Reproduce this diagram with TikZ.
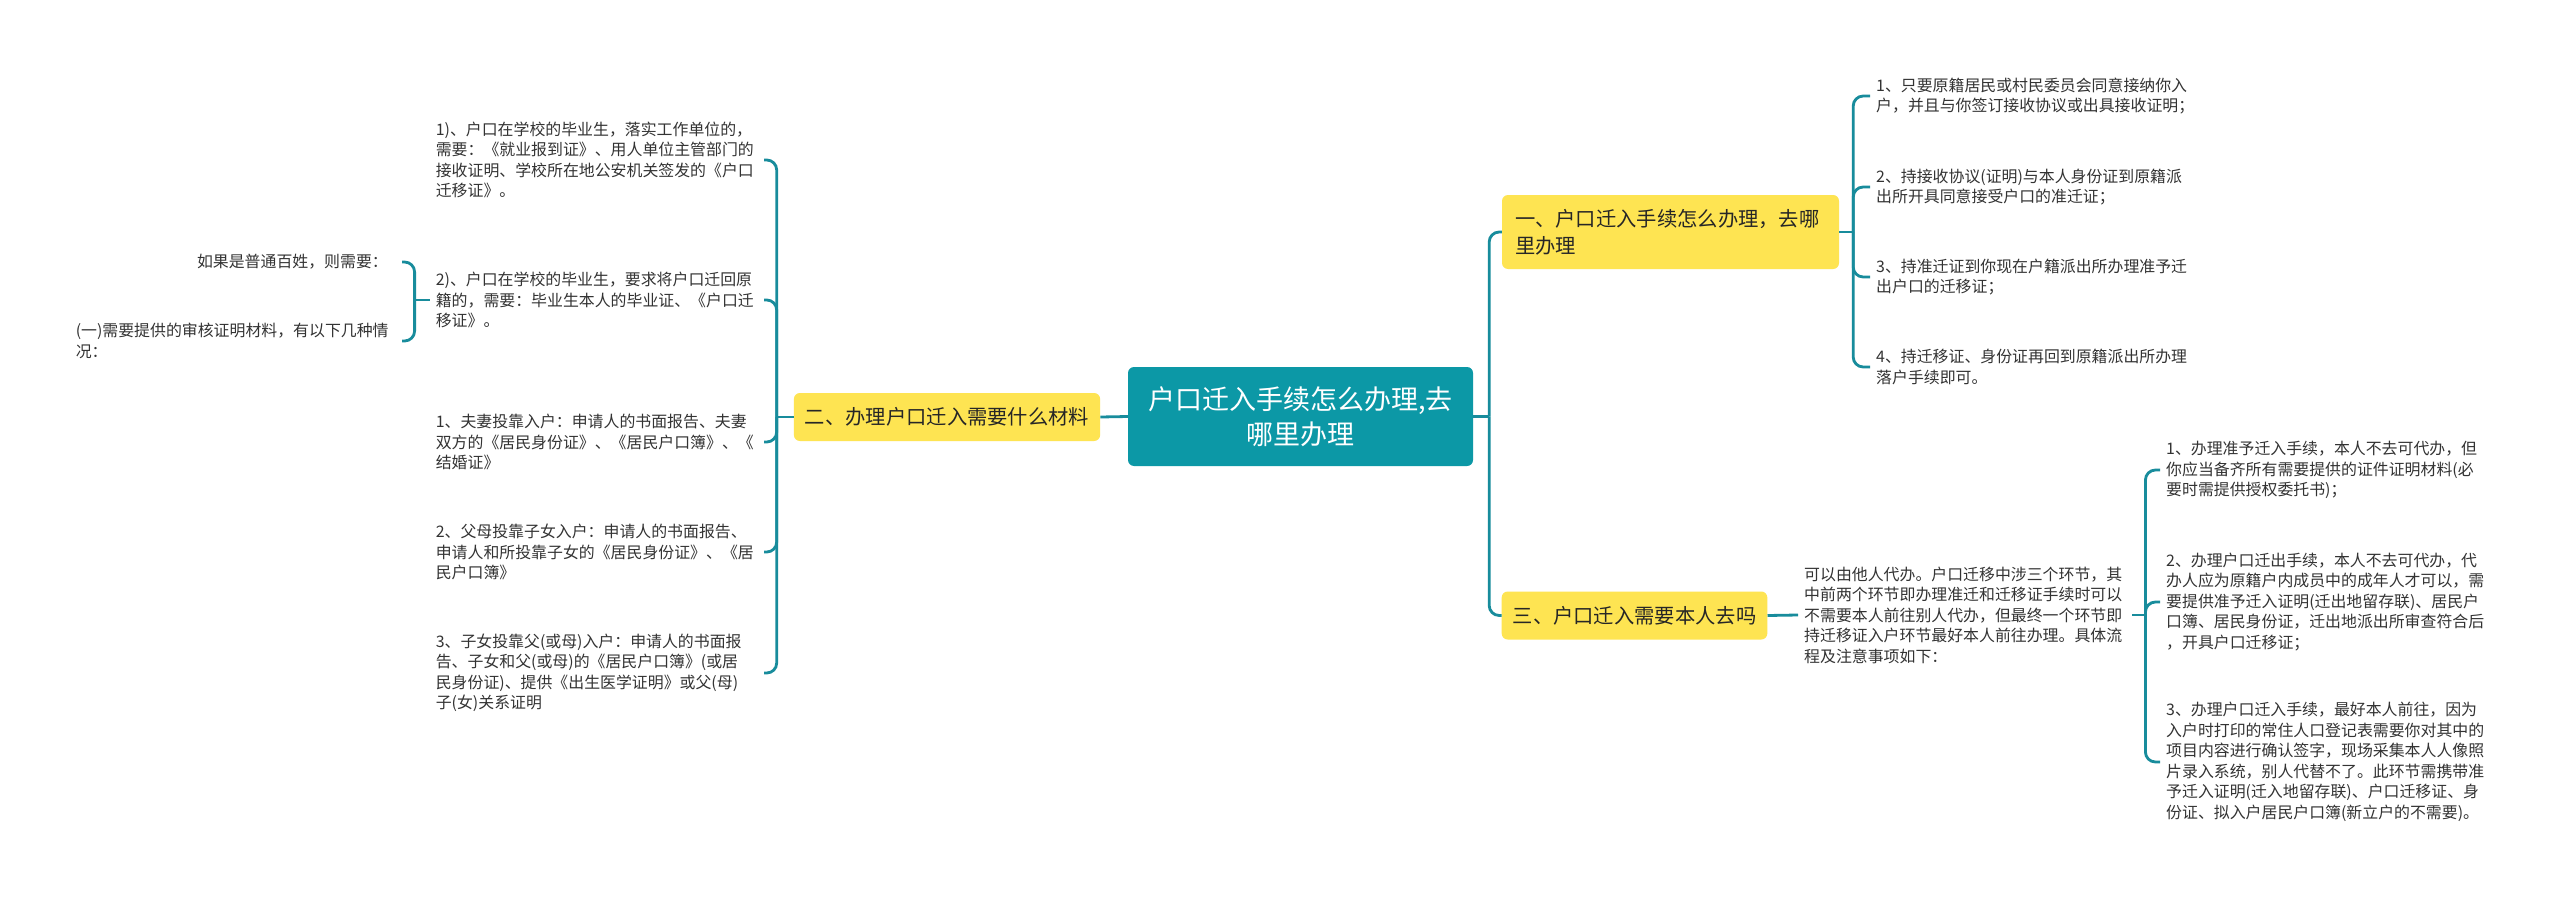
\documentclass[tikz,border=0pt]{standalone}
\usepackage{fontspec}
\setmainfont{Noto Sans CJK SC}
\usepackage{tikz}
\usetikzlibrary{positioning}

\definecolor{tealline}{RGB}{24,140,156}
\definecolor{tealroot}{RGB}{12,152,166}
\definecolor{topicyellow}{RGB}{254,228,82}
\definecolor{leaftext}{RGB}{51,51,51}

\begin{document}
\begin{tikzpicture}[
                x=1pt, y=-1pt,
                box/.style={rectangle, rounded corners=6pt, align=left, inner ysep=0pt},
                root/.style={box, fill=tealroot, text=white, align=center, minimum width=345pt, minimum height=99pt, font=\fontsize{27}{35}\selectfont},
                main/.style={box, fill=topicyellow, text=black!85, minimum height=48pt, inner xsep=11pt, font=\fontsize{20.3}{27}\selectfont},
                leaf/.style={rectangle, align=left, text width=322pt, inner xsep=6pt, inner ysep=1pt, text=leaftext, font=\fontsize{15.9}{20.5}\selectfont},
                link/.style={draw=tealline, line width=2.8pt, rounded corners=10pt}
            ]

            \fill[white] (0,0) rectangle (2560,899);
            \useasboundingbox (0,0) rectangle (2560,899);

            \node[root] (root) at (1300.5,416.5) {户口迁入手续怎么办理,去\\哪里办理};
            \node[main, text width=311pt, minimum height=74pt, inner xsep=13pt] (sec1) at (1670.5,232) {一、户口迁入手续怎么办理，去哪\\里办理};
            \node[main] (sec2) at (947,417) {二、办理户口迁入需要什么材料};
            \node[main] (sec3) at (1634.5,615.5) {三、户口迁入需要本人去吗};

            \node[leaf, anchor=west] (r1) at (1870,96) {1、只要原籍居民或村民委员会同意接纳你入\\户，并且与你签订接收协议或出具接收证明；};
            \node[leaf, anchor=west] (r2) at (1870,187) {2、持接收协议(证明)与本人身份证到原籍派\\出所开具同意接受户口的准迁证；};
            \node[leaf, anchor=west] (r3) at (1870,277) {3、持准迁证到你现在户籍派出所办理准予迁\\出户口的迁移证；};
            \node[leaf, anchor=west] (r4) at (1870,367) {4、持迁移证、身份证再回到原籍派出所办理\\落户手续即可。};

            \node[leaf, anchor=east] (cl1) at (764,160) {1)、户口在学校的毕业生，落实工作单位的，\\需要：《就业报到证》、用人单位主管部门的\\接收证明、学校所在地公安机关签发的《户口\\迁移证》。};
            \node[leaf, anchor=east] (cl2) at (764,300) {2)、户口在学校的毕业生，要求将户口迁回原\\籍的，需要：毕业生本人的毕业证、《户口迁\\移证》。};
            \node[leaf, anchor=east] (cl3) at (764,442) {1、夫妻投靠入户：申请人的书面报告、夫妻\\双方的《居民身份证》、《居民户口簿》、《\\结婚证》};
            \node[leaf, anchor=east] (cl4) at (764,552) {2、父母投靠子女入户：申请人的书面报告、\\申请人和所投靠子女的《居民身份证》、《居\\民户口簿》};
            \node[leaf, anchor=east] (cl5) at (764,673) {3、子女投靠父(或母)入户：申请人的书面报\\告、子女和父(或母)的《居民户口簿》(或居\\民身份证)、提供《出生医学证明》或父(母)\\子(女)关系证明};

            \node[leaf, anchor=east, text width=192pt, align=right, inner xsep=14pt] (ll1) at (402,262) {如果是普通百姓，则需要：};
            \node[leaf, anchor=east, text width=312pt, inner xsep=14pt] (ll2) at (402,341) {(一)需要提供的审核证明材料，有以下几种情\\况：};

            \node[leaf, anchor=west] (how) at (1798,615) {可以由他人代办。户口迁移中涉三个环节，其\\中前两个环节即办理准迁和迁移证手续时可以\\不需要本人前往别人代办，但最终一个环节即\\持迁移证入户环节最好本人前往办理。具体流\\程及注意事项如下：};

            \node[leaf, anchor=west] (c1) at (2160,470) {1、办理准予迁入手续，本人不去可代办，但\\你应当备齐所有需要提供的证件证明材料(必\\要时需提供授权委托书)；};
            \node[leaf, anchor=west] (c2) at (2160,602) {2、办理户口迁出手续，本人不去可代办，代\\办人应为原籍户内成员中的成年人才可以，需\\要提供准予迁入证明(迁出地留存联)、居民户\\口簿、居民身份证，迁出地派出所审查符合后\\，开具户口迁移证；};
            \node[leaf, anchor=west] (c3) at (2160,762) {3、办理户口迁入手续，最好本人前往，因为\\入户时打印的常住人口登记表需要你对其中的\\项目内容进行确认签字，现场采集本人人像照\\片录入系统，别人代替不了。此环节需携带准\\予迁入证明(迁入地留存联)、户口迁移证、身\\份证、拟入户居民户口簿(新立户的不需要)。};

            \coordinate (j0) at ([xshift=16pt]root.east);
            \draw[link] (root.east) -- (j0);
            \draw[link] (j0) |- (sec1.west);
            \draw[link] (j0) |- (sec3.west);
            \draw[link] (root.west) -- (sec2.east);

            \coordinate (j1) at ([xshift=14pt]sec1.east);
            \draw[link] (sec1.east) -- (j1);
            \foreach \n in {r1,r2,r3,r4}
                \draw[link] (j1) |- (\n.west);

            \coordinate (j2) at ([xshift=-17pt]sec2.west);
            \draw[link] (sec2.west) -- (j2);
            \foreach \n in {cl1,cl2,cl3,cl4,cl5}
                \draw[link] (j2) |- (\n.east);

            \coordinate (j3) at ([xshift=-15pt]cl2.west);
            \draw[link] (cl2.west) -- (j3);
            \foreach \n in {ll1,ll2}
                \draw[link] (j3) |- (\n.east);

            \draw[link] (sec3.east) -- (how.west);
            \coordinate (j4) at ([xshift=13pt]how.east);
            \draw[link] (how.east) -- (j4);
            \foreach \n in {c1,c2,c3}
                \draw[link] (j4) |- (\n.west);
        \end{tikzpicture}
\end{document}
